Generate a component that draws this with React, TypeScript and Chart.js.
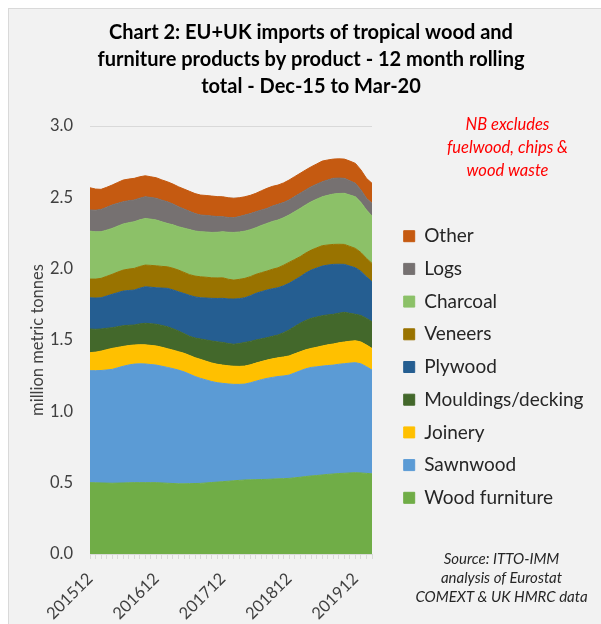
import { useEffect, useRef } from 'react';
import { Chart, registerables } from 'chart.js';

Chart.register(...registerables);

const FONT = 'Lato, "Open Sans", sans-serif';

// Month labels, 12-month rolling totals from Dec-15 to Mar-20
const months = [
  '201512',
  '201601', '201602', '201603', '201604', '201605', '201606', '201607', '201608', '201609', '201610', '201611', '201612',
  '201701', '201702', '201703', '201704', '201705', '201706', '201707', '201708', '201709', '201710', '201711', '201712',
  '201801', '201802', '201803', '201804', '201805', '201806', '201807', '201808', '201809', '201810', '201811', '201812',
  '201901', '201902', '201903', '201904', '201905', '201906', '201907', '201908', '201909', '201910', '201911', '201912',
  '202001', '202002', '202003',
];

// Million metric tonnes per product group
const woodFurniture = [
  0.500, 0.499, 0.498, 0.497, 0.496, 0.497, 0.498, 0.499, 0.500, 0.500, 0.500, 0.500,
  0.500, 0.498, 0.496, 0.494, 0.492, 0.492, 0.493, 0.494, 0.495, 0.498, 0.501, 0.504,
  0.507, 0.510, 0.513, 0.516, 0.519, 0.520, 0.521, 0.522, 0.523, 0.525, 0.527, 0.528,
  0.530, 0.534, 0.538, 0.543, 0.547, 0.550, 0.554, 0.558, 0.561, 0.564, 0.566, 0.568,
  0.570, 0.568, 0.565, 0.562,
];
const sawnwood = [
  0.785, 0.786, 0.788, 0.793, 0.798, 0.808, 0.818, 0.826, 0.831, 0.833, 0.832, 0.828,
  0.824, 0.818, 0.812, 0.805, 0.797, 0.785, 0.768, 0.750, 0.736, 0.722, 0.708, 0.697,
  0.689, 0.682, 0.676, 0.673, 0.672, 0.680, 0.690, 0.700, 0.708, 0.713, 0.717, 0.720,
  0.724, 0.735, 0.746, 0.755, 0.761, 0.762, 0.763, 0.763, 0.763, 0.766, 0.768, 0.770,
  0.771, 0.765, 0.748, 0.727,
];
const joinery = [
  0.126, 0.130, 0.136, 0.142, 0.147, 0.143, 0.139, 0.136, 0.134, 0.134, 0.134, 0.134,
  0.134, 0.133, 0.131, 0.130, 0.129, 0.130, 0.131, 0.132, 0.133, 0.131, 0.130, 0.129,
  0.128, 0.127, 0.127, 0.126, 0.126, 0.126, 0.127, 0.127, 0.128, 0.130, 0.131, 0.133,
  0.134, 0.134, 0.133, 0.133, 0.133, 0.137, 0.141, 0.145, 0.148, 0.150, 0.152, 0.153,
  0.154, 0.153, 0.152, 0.152,
];
const mouldingsDecking = [
  0.166, 0.160, 0.155, 0.150, 0.145, 0.145, 0.145, 0.142, 0.140, 0.146, 0.151, 0.152,
  0.152, 0.153, 0.154, 0.150, 0.145, 0.138, 0.134, 0.138, 0.143, 0.149, 0.154, 0.157,
  0.159, 0.156, 0.154, 0.160, 0.166, 0.164, 0.162, 0.159, 0.157, 0.158, 0.160, 0.170,
  0.182, 0.191, 0.200, 0.206, 0.211, 0.212, 0.212, 0.210, 0.208, 0.208, 0.208, 0.196,
  0.185, 0.186, 0.187, 0.187,
];
const plywood = [
  0.219, 0.219, 0.219, 0.226, 0.234, 0.239, 0.243, 0.244, 0.245, 0.250, 0.256, 0.256,
  0.256, 0.262, 0.269, 0.272, 0.275, 0.281, 0.287, 0.288, 0.289, 0.294, 0.299, 0.304,
  0.309, 0.313, 0.317, 0.315, 0.313, 0.320, 0.327, 0.331, 0.334, 0.333, 0.331, 0.329,
  0.327, 0.326, 0.326, 0.332, 0.338, 0.343, 0.348, 0.349, 0.350, 0.343, 0.336, 0.331,
  0.326, 0.309, 0.291, 0.280,
];
const veneers = [
  0.131, 0.133, 0.136, 0.138, 0.140, 0.144, 0.147, 0.150, 0.152, 0.152, 0.152, 0.153,
  0.154, 0.152, 0.151, 0.152, 0.152, 0.148, 0.145, 0.146, 0.147, 0.146, 0.144, 0.144,
  0.144, 0.138, 0.133, 0.135, 0.136, 0.134, 0.133, 0.133, 0.133, 0.137, 0.140, 0.144,
  0.147, 0.144, 0.141, 0.140, 0.140, 0.142, 0.143, 0.141, 0.140, 0.140, 0.140, 0.138,
  0.136, 0.132, 0.129, 0.129,
];
const charcoal = [
  0.336, 0.331, 0.327, 0.324, 0.322, 0.322, 0.323, 0.325, 0.327, 0.327, 0.327, 0.324,
  0.321, 0.312, 0.304, 0.304, 0.304, 0.310, 0.316, 0.316, 0.316, 0.317, 0.318, 0.320,
  0.323, 0.329, 0.334, 0.332, 0.331, 0.329, 0.327, 0.331, 0.334, 0.335, 0.335, 0.333,
  0.332, 0.335, 0.338, 0.338, 0.339, 0.341, 0.343, 0.348, 0.353, 0.356, 0.358, 0.360,
  0.362, 0.351, 0.339, 0.332,
];
const logs = [
  0.148, 0.152, 0.156, 0.160, 0.164, 0.160, 0.156, 0.154, 0.152, 0.152, 0.152, 0.152,
  0.152, 0.152, 0.152, 0.146, 0.140, 0.134, 0.128, 0.122, 0.117, 0.116, 0.115, 0.110,
  0.105, 0.104, 0.103, 0.108, 0.113, 0.113, 0.112, 0.108, 0.105, 0.108, 0.110, 0.107,
  0.105, 0.106, 0.106, 0.105, 0.105, 0.105, 0.105, 0.108, 0.110, 0.108, 0.105, 0.100,
  0.094, 0.088, 0.082, 0.089,
];
const other = [
  0.156, 0.148, 0.141, 0.140, 0.140, 0.146, 0.152, 0.152, 0.152, 0.150, 0.147, 0.145,
  0.144, 0.142, 0.140, 0.140, 0.140, 0.140, 0.140, 0.140, 0.140, 0.140, 0.140, 0.140,
  0.140, 0.138, 0.136, 0.132, 0.128, 0.128, 0.129, 0.135, 0.141, 0.138, 0.135, 0.137,
  0.140, 0.140, 0.140, 0.140, 0.140, 0.142, 0.145, 0.140, 0.135, 0.135, 0.135, 0.138,
  0.140, 0.140, 0.140, 0.140,
];

const productNames = [
  'Wood furniture', 'Sawnwood', 'Joinery', 'Mouldings/decking', 'Plywood',
  'Veneers', 'Charcoal', 'Logs', 'Other',
];
const productValues = [
  woodFurniture, sawnwood, joinery, mouldingsDecking, plywood,
  veneers, charcoal, logs, other,
];
const productColors = [
  '#70ad47', '#5b9bd5', '#ffc000', '#43682b', '#255e91',
  '#997300', '#8cc168', '#767171', '#c55a11',
];

const titleLines = [
  'Chart 2: EU+UK imports of tropical wood and',
  'furniture products by product - 12 month rolling',
  'total - Dec-15 to Mar-20',
];
const noteLines = ['NB excludes', 'fuelwood, chips &', 'wood waste'];
const sourceLines = ['Source: ITTO-IMM', 'analysis of Eurostat', 'COMEXT & UK HMRC data'];

const CANVAS_W = 604;
const CANVAS_H = 615;
const PLOT_LEFT = 81;
const PLOT_RIGHT = 363;
const PLOT_BOTTOM = 545;

// Places the legend column to the right of the plot
const legendPlacement = {
  id: 'legendPlacement',
  afterLayout(chart: any) {
    const lg = chart.legend;
    if (!lg) return;
    lg.left = 381;
    lg.right = lg.left + lg.width;
    lg.top = 204;
    lg.bottom = lg.top + lg.height;
  },
};

// Red footnote on exclusions and the source credit
const sideNotes = {
  id: 'sideNotes',
  afterDraw(chart: any) {
    const { ctx } = chart;
    ctx.save();
    ctx.textAlign = 'center';
    ctx.textBaseline = 'alphabetic';
    ctx.fillStyle = '#ff0000';
    ctx.font = `italic 16.5px ${FONT}`;
    noteLines.forEach((t, i) => ctx.fillText(t, 498.5, 121 + i * 23));
    ctx.fillStyle = '#262626';
    ctx.font = `italic 15px ${FONT}`;
    sourceLines.forEach((t, i) => ctx.fillText(t, 492.5, 555 + i * 19));
    ctx.restore();
  },
};

export default function App() {
  const canvasRef = useRef<HTMLCanvasElement | null>(null);

  useEffect(() => {
    const canvas = canvasRef.current;
    if (!canvas) return;

    const datasets = productNames.map((name, i) => ({
      label: name,
      data: productValues[i],
      backgroundColor: productColors[i],
      borderColor: productColors[i],
      borderWidth: 1,
      pointRadius: 0,
      pointHoverRadius: 0,
      tension: 0,
      fill: i === 0 ? 'origin' : '-1',
      yAxisID: 'y',
    }));

    const chart = new Chart(canvas, {
      type: 'line',
      data: { labels: months, datasets },
      options: {
        responsive: false,
        animation: false,
        devicePixelRatio: 1,
        layout: { padding: 0 },
        scales: {
          x: {
            offset: false,
            grid: { drawOnChartArea: false, drawTicks: true, tickLength: 5, color: '#d9d9d9' },
            border: { display: true, color: '#d9d9d9' },
            ticks: {
              autoSkip: false,
              minRotation: 45,
              maxRotation: 45,
              padding: 10,
              color: '#404040',
              font: { family: FONT, size: 16.5 },
              callback: (_v: any, i: number) => (i % 12 === 0 ? months[i] : ''),
            },
            afterFit: (s: any) => {
              s.height = CANVAS_H - PLOT_BOTTOM;
            },
          },
          y: {
            stacked: true,
            min: 0,
            max: 3,
            grid: { color: '#d9d9d9', drawTicks: false },
            border: { display: false },
            ticks: {
              stepSize: 0.5,
              padding: 17,
              color: '#404040',
              font: { family: FONT, size: 16.5 },
              callback: (v: any) => Number(v).toFixed(1),
            },
            title: {
              display: true,
              text: 'million metric tonnes',
              color: '#404040',
              font: { family: FONT, size: 16.5 },
              padding: { top: 19, bottom: 0 },
            },
            afterFit: (s: any) => {
              s.width = PLOT_LEFT;
            },
          },
          gap: {
            type: 'linear',
            position: 'right',
            display: true,
            grid: { display: false },
            ticks: { display: false },
            border: { display: false },
            afterFit: (s: any) => {
              s.width = CANVAS_W - PLOT_RIGHT;
            },
          },
        },
        plugins: {
          title: {
            display: true,
            text: titleLines,
            color: '#000000',
            font: { family: FONT, size: 20, weight: 'bold', lineHeight: 1.35 },
            padding: { top: 9.8, bottom: 26.2 },
          },
          legend: {
            position: 'chartArea',
            align: 'start',
            reverse: true,
            labels: {
              boxWidth: 11,
              boxHeight: 11,
              padding: 13.7,
              color: '#262626',
              font: { family: FONT, size: 19 },
            },
          },
          tooltip: { enabled: false },
        },
      } as any,
      plugins: [legendPlacement, sideNotes],
    });

    return () => chart.destroy();
  }, []);

  return (
    <div
      style={{
        position: 'fixed',
        left: 8,
        top: 8,
        width: 593,
        height: 616,
        overflow: 'hidden',
        boxSizing: 'border-box',
        background: '#f2f2f2',
        borderLeft: '1px solid #d9d9d9',
        borderTop: '1px solid #d9d9d9',
      }}
    >
      <canvas
        ref={canvasRef}
        width={CANVAS_W}
        height={CANVAS_H}
        style={{ display: 'block', width: CANVAS_W, height: CANVAS_H }}
      />
    </div>
  );
}
